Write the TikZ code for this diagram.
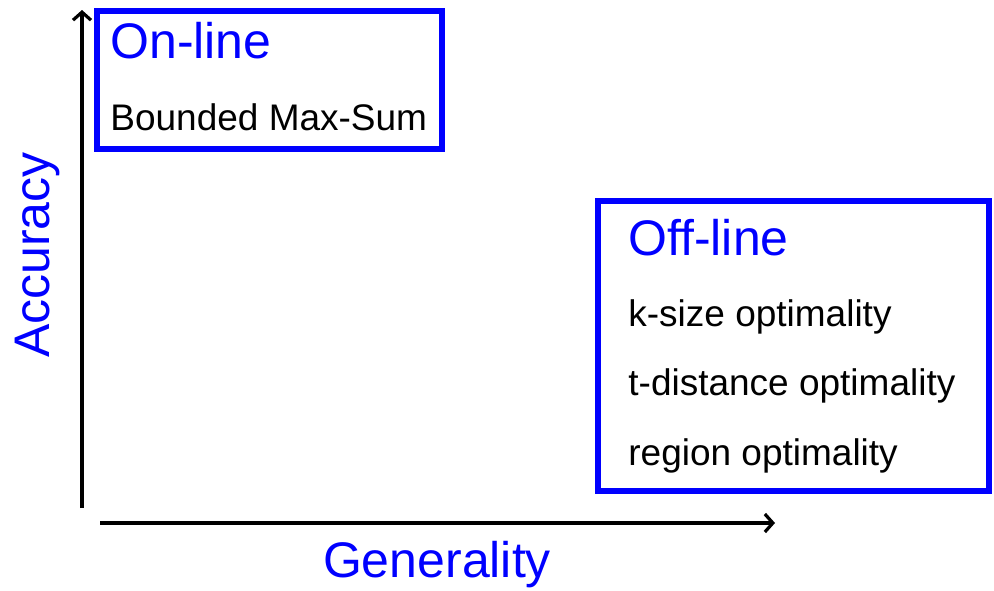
\documentclass[tikz,border=0pt]{standalone}
\usepackage{fontspec}
\setmainfont{Liberation Sans}
\usetikzlibrary{arrows.meta}

\begin{document}
\begin{tikzpicture}[x=0.5pt,y=-0.5pt,
	axis/.style={line width=2pt,-{Straight Barb[length=4pt,width=9pt,line width=1.6pt]}},
	box/.style={draw=blue,line width=2.6pt},
	head/.style={anchor=base west,inner sep=0pt,text=blue,font=\fontsize{25}{30}\selectfont},
	item/.style={anchor=base west,inner sep=0pt,font=\fontsize{18.5}{22}\selectfont}]
	\useasboundingbox (0,0) rectangle (994,590);
	% axes
	\coordinate (ybot) at (82,508);
	\coordinate (ytop) at (82,10);
	\coordinate (xleft) at (100,523);
	\coordinate (xright) at (775,523);
	\draw[axis] (ybot) -- (ytop);
	\draw[axis] (xleft) -- (xright);
	\node[text=blue,font=\fontsize{25}{30}\selectfont,rotate=90,inner sep=0pt] (acc) at (37,255) {Accuracy};
	\node[text=blue,font=\fontsize{25}{30}\selectfont,inner sep=0pt] (gen) at (437,565) {Generality};
	% on-line
	\draw[box] (97,11) rectangle (442,149);
	\node[head] (on) at (110,58) {On-line};
	\node[item] (bms) at (110,130) {Bounded Max-Sum};
	% off-line
	\draw[box] (598,201) rectangle (989,491);
	\node[head] (off) at (628,255) {Off-line};
	\node[item] (ksize) at (628,326) {k-size optimality};
	\node[item] (tdist) at (628,395) {t-distance optimality};
	\node[item] (region) at (628,465) {region optimality};
\end{tikzpicture}
\end{document}
